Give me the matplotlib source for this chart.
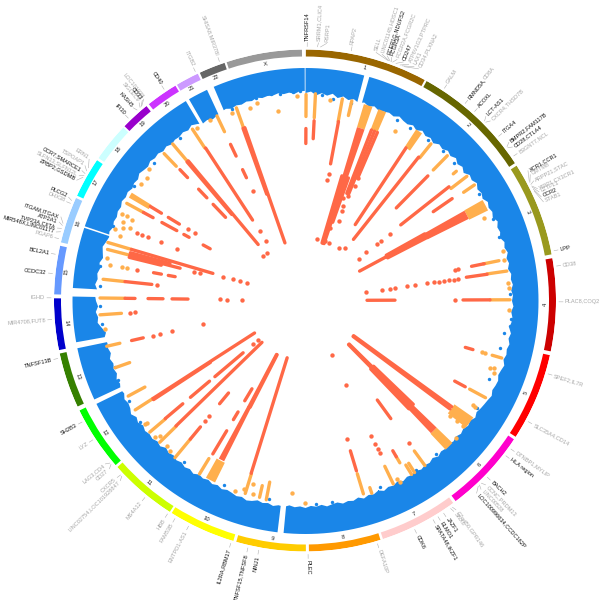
import matplotlib
matplotlib.use("Agg")
import matplotlib.pyplot as plt
import numpy as np

plt.rcParams["font.family"] = ["Liberation Sans", "DejaVu Sans"]

# Chromosome ring, angles in degrees clockwise from the top
chrom_names = ["1", "2", "3", "4", "5", "6", "7", "8", "9", "10", "11", "12",
               "13", "14", "15", "16", "17", "18", "19", "20", "21", "22", "X"]
chrom_start = [0.2, 29.0, 57.5, 80.3, 102.6, 123.6, 143.8, 162.5, 179.8, 196.6, 212.6, 229.0,
               245.0, 258.6, 271.4, 283.4, 294.7, 304.6, 314.0, 321.5, 329.3, 335.2, 341.8]
chrom_end = [28.5, 56.8, 79.4, 101.7, 122.9, 143.1, 161.9, 179.1, 195.9, 212.1, 228.4, 244.0,
             257.8, 270.5, 282.6, 294.1, 304.0, 313.6, 320.8, 328.9, 334.7, 341.3, 359.3]
chrom_colors = ["#996600", "#666600", "#99991E", "#CC0000", "#FF0000", "#FF00CC", "#FFCCCC",
                "#FF9900", "#FFCC00", "#FFFF00", "#CCFF00", "#00FF00", "#358000", "#0000CC",
                "#6699FF", "#99CCFF", "#00FFFF", "#CCFFFF", "#9900CC", "#CC33FF", "#CC99FF",
                "#666666", "#999999"]

# Stretches of the genome that carry data (gaps are centromeres / short arms)
blue_start = [0.0, 15.9, 186.9, 245.0, 259.8, 273.2, 288.7, 330.0, 336.8]
blue_end = [14.6, 185.4, 243.8, 258.3, 271.1, 288.3, 329.1, 335.0, 359.8]

# Top of the non significant band, one value every 1.5 degrees
blue_top = [
    5.0, 4.7, 5.4, 4.9, 5.3, 4.8, 5.5, 5.0, 5.5, 5.1, 5.6, 5.2, 5.7, 5.3, 5.8, 5.6, 5.4, 5.7, 5.2, 5.6,
    5.8, 5.4, 5.9, 5.3, 5.8, 5.5, 6.0, 5.4, 5.7, 5.2, 5.6, 5.1, 5.7, 5.3, 5.9, 5.2, 5.5, 5.0, 5.6, 5.3,
    5.7, 5.1, 5.5, 5.2, 5.6, 5.0, 5.5, 5.3, 5.7, 5.1, 5.4, 5.0, 5.5, 5.2, 5.6, 5.1, 5.3, 5.0, 5.4, 5.1,
    5.3, 5.0, 5.4, 5.1, 5.2, 5.5, 5.0, 5.3, 4.9, 5.2, 5.0, 5.3, 4.8, 5.1, 5.3, 4.9, 5.0, 5.2, 4.8, 5.1,
    5.3, 5.5, 5.8, 5.4, 5.9, 5.6, 6.0, 5.7, 6.1, 5.8, 6.2, 5.9, 6.1, 5.7, 6.2, 5.8, 6.0, 5.7, 6.1, 5.8,
    6.0, 5.6, 6.1, 5.7, 5.9, 5.5, 6.0, 5.6, 5.8, 5.4, 5.9, 5.5, 5.7, 5.4, 5.8, 5.6, 5.3, 5.7, 5.4, 5.6,
    5.2, 5.5, 5.3, 5.6, 5.2, 5.4, 5.1, 5.5, 5.3, 5.6, 5.2, 5.0, 5.4, 5.2, 5.5, 5.7, 5.4, 5.8, 5.5, 5.9,
    5.6, 5.9, 5.4, 5.8, 5.5, 5.9, 5.6, 6.0, 5.7, 6.1, 5.5, 5.8, 5.4, 5.6, 5.3, 5.7, 5.2, 5.6, 5.0, 5.5,
    5.7, 5.4, 5.9, 5.6, 6.0, 5.7, 6.2, 5.9, 6.2, 5.8, 6.3, 6.0, 6.1, 5.7, 6.2, 5.5, 4.8, 5.0, 4.6, 5.1,
    4.7, 4.5, 4.9, 4.4, 4.8, 4.6, 5.0, 4.7, 5.2, 4.9, 4.6, 5.0, 5.3, 5.0, 5.4, 5.1, 5.3, 5.0, 5.2, 4.8,
    5.1, 4.9, 5.3, 5.0, 5.2, 4.7, 5.0, 5.2, 4.8, 5.1, 4.9, 5.3, 5.0, 5.4, 5.1, 5.2, 4.9, 5.2, 4.7, 5.1,
    5.6, 5.4, 5.8, 5.5, 5.2, 5.0, 5.4, 5.1, 5.3, 5.0, 5.2, 4.8, 5.1, 4.9, 5.0, 4.7, 5.0, 4.8, 5.1, 4.6,
]
blue_dot_angle = [346.4, 350.6, 353.0, 356.7, 358.6, 274.0, 95.0, 97.0, 250.8, 251.5, 4.6, 7.9, 13.0,
                  26.9, 31.2, 37.4, 42.8, 47.3, 58.4, 66.7, 71.8, 88.1, 99.4, 103.7, 113.2, 121.9,
                  139.6, 146.8, 158.2, 172.3, 176.9, 190.4, 203.8, 216.7, 233.6, 240.2, 247.1, 263.3,
                  268.4, 279.6, 291.3, 303.8, 312.4, 322.6, 339.1]
blue_dot_score = [5.0, 4.8, 4.9, 4.8, 4.7, 5.5, 5.2, 5.2, 6.3, 5.7, 5.3, 5.9, 6.0,
                  6.1, 6.2, 6.1, 5.9, 6.0, 5.8, 5.6, 5.7, 5.5, 6.3, 6.4, 6.5, 6.0,
                  6.3, 6.2, 6.4, 6.0, 5.8, 6.3, 6.3, 6.2, 5.7, 6.0, 5.9, 5.8,
                  5.6, 5.0, 5.4, 5.5, 5.7, 5.6, 5.7]

# Wide blocks of many variants: angle range and score range
orange_block_from = [16.7, 21.0, 33.0, 60.5, 124.8, 134.0, 206.3, 300.3]
orange_block_to = [19.2, 23.3, 35.0, 63.8, 128.3, 136.7, 209.2, 301.9]
orange_block_low = [5.6, 5.6, 5.8, 5.8, 5.6, 5.6, 6.0, 5.8]
orange_block_high = [10.4, 10.0, 10.0, 10.0, 10.2, 10.0, 10.4, 10.4]

red_block_from = [16.7, 60.6, 134.0, 206.7]
red_block_to = [19.2, 63.5, 136.5, 208.6]
red_block_low = [10.4, 10.0, 10.0, 10.6]
red_block_high = [20.6, 19.2, 16.6, 22.6]

# Single peaks
orange_angle = [0.3, 2.9, 10.5, 13.2, 38.8, 44.5, 49.5, 52.5, 55.7, 78.4, 81.7, 89.8, 106.3, 118.3,
                144.0, 147.5, 148.5, 149.7, 154.3, 160.9, 163.2, 191.0, 193.0, 197.2, 211.3, 219.6,
                225.7, 229.7, 237.2, 241.6, 250.5, 257.0, 266.0, 270.7, 276.0, 284.5, 286.4, 298.6,
                316.2, 319.8, 326.7, 334.5, 340.4]
orange_from = [5.4, 5.2, 5.6, 5.6, 6.4, 6.0, 6.8, 5.8, 5.6, 7.0, 5.8, 5.6, 5.6, 5.6,
               5.8, 5.8, 5.8, 9.0, 5.9, 5.8, 6.2, 6.0, 6.2, 6.2, 6.0, 5.8,
               6.0, 5.9, 6.2, 6.4, 6.3, 5.9, 5.5, 5.6, 6.0, 5.8, 5.5, 6.0,
               5.9, 5.6, 5.6, 5.7, 5.7]
orange_to = [9.8, 10.0, 10.2, 8.6, 10.0, 10.0, 7.6, 9.8, 8.2, 10.2, 9.8, 9.6, 7.6, 9.2,
             9.4, 8.0, 8.0, 10.4, 9.8, 7.0, 10.4, 9.6, 8.6, 10.4, 9.6, 10.6,
             10.6, 10.0, 10.4, 10.2, 9.4, 8.6, 9.8, 10.6, 10.4, 10.4, 10.4, 9.8,
             9.4, 10.2, 10.1, 9.2, 9.9]

red_angle = [0.3, 2.9, 10.6, 33.5, 38.4, 44.6, 51.7, 55.3, 61.7, 78.4, 81.8, 89.8, 89.8, 106.3, 118.3,
             125.9, 126.8, 134.6, 135.4, 144.0, 149.7, 163.2, 197.3, 207.2, 207.8, 211.0, 211.0, 211.0,
             219.6, 219.6, 225.8, 229.8, 229.8, 229.8, 236.8, 237.2, 257.0, 270.7, 270.7, 270.7,
             276.0, 280.4, 280.4, 284.5, 285.3, 286.4, 298.6, 298.6, 298.6, 298.6, 301.3, 301.3,
             316.3, 316.3, 316.3, 319.6, 320.1, 326.9, 334.5, 334.5, 340.2, 340.8,
             16.5, 17.5, 18.5, 19.5, 21.3, 22.3, 23.3, 60.9, 61.5, 62.1, 62.7, 133.8, 136.2, 283.8]
red_from = [12.2, 10.6, 10.2, 10.0, 10.0, 11.6, 9.9, 10.8, 28.0, 10.0, 9.8, 9.6, 28.6, 11.6, 10.2,
            10.4, 10.4, 16.6, 16.6, 17.4, 10.4, 11.0, 10.4, 22.6, 22.6, 10.8, 18.8, 23.2,
            10.6, 19.8, 10.6, 10.0, 16.6, 23.0, 10.4, 10.4, 11.0, 10.6, 15.2, 20.0,
            10.4, 15.8, 18.8, 10.4, 10.4, 10.4, 9.8, 14.0, 19.0, 23.4, 10.4, 14.6,
            10.4, 15.8, 20.0, 10.2, 10.2, 10.2, 12.0, 17.6, 10.0, 10.0,
            20.6, 20.6, 20.6, 20.6, 10.0, 10.0, 10.0, 19.2, 19.2, 19.2, 19.2, 16.6, 16.6, 10.4]
red_to = [15.2, 14.2, 18.8, 28.4, 31.0, 20.6, 22.2, 15.4, 34.2, 12.6, 14.0, 15.0, 34.2, 13.2, 12.6,
          34.6, 34.6, 34.2, 34.2, 22.0, 11.8, 15.2, 34.6, 34.4, 34.4, 16.2, 20.6, 26.0,
          13.8, 22.6, 34.6, 14.6, 21.6, 30.4, 24.0, 34.6, 13.4, 12.6, 18.2, 23.2,
          15.8, 17.4, 20.2, 20.8, 18.6, 27.4, 12.0, 17.4, 20.2, 25.0, 13.0, 17.2,
          12.6, 18.2, 23.6, 24.0, 32.0, 27.4, 14.6, 19.4, 24.0, 34.4,
          34.6, 34.6, 34.6, 30.0, 23.6, 23.6, 20.0, 28.0, 28.0, 28.0, 28.0, 27.6, 27.6, 17.0]

orange_dot_angle = [357.7, 7.1, 28.0, 65.3, 78.5, 76.0, 85.0, 86.5, 92.7, 106.3, 106.3, 110.0, 109.6,
                    111.0, 128.5, 128.5, 128.5, 132.3, 122.0, 122.0, 152.8, 152.5, 200.2, 198.0,
                    195.7, 195.0, 184.0, 180.0, 232.3, 232.3, 227.6, 226.9, 223.5, 221.9, 261.8,
                    280.4, 280.4, 280.4, 282.2, 293.2, 290.5, 295.4, 294.8, 295.2, 291.8, 292.6,
                    289.2, 310.0, 307.8, 305.3, 338.7, 344.0, 346.3, 352.0, 332.2, 328.0]
orange_dot_score = [5.7, 6.1, 8.2, 7.2, 6.0, 5.8, 5.8, 5.8, 5.8, 9.0, 9.8, 7.2, 6.4,
                    6.2, 9.6, 7.8, 6.2, 5.8, 6.4, 7.0, 6.5, 5.6, 6.0, 6.9,
                    8.4, 6.6, 8.0, 6.2, 6.6, 6.2, 6.0, 6.9, 6.5, 6.2, 6.2,
                    7.0, 9.4, 10.4, 6.0, 7.0, 6.0, 7.2, 8.4, 6.1, 7.5, 8.7,
                    7.4, 5.8, 6.6, 6.4, 6.3, 6.5, 5.9, 8.3, 5.8, 6.0]

red_dot_angle = [10.7, 10.5, 10.8, 18.6, 22.5, 33.0, 37.0, 22.0, 22.3, 23.3, 19.0, 17.2, 20.4, 22.5,
                 23.6, 23.5, 78.4, 78.4, 82.0, 82.0, 82.0, 82.0, 82.0, 82.0, 82.0, 82.0, 82.0, 82.0,
                 82.0, 82.0, 82.0, 89.8, 143.8, 153.9, 153.9, 153.9, 153.9, 153.9, 153.9, 163.3, 219.6,
                 219.6, 229.8, 229.8, 257.0, 257.0, 257.0, 257.0, 266.0, 266.0, 270.7, 270.7, 270.7,
                 276.0, 280.4, 284.5, 284.5, 286.4, 286.4, 286.8, 286.9, 292.0, 292.0, 292.0, 292.0,
                 292.0, 301.3, 301.3, 316.7, 321.0, 326.9, 326.9, 334.5, 52.0, 52.0, 52.0, 52.0, 52.0]
red_dot_score = [20.8, 22.0, 34.1, 34.0, 34.1, 34.1, 33.4, 26.2, 27.3, 29.3, 31.2, 28.5, 24.7, 24.0,
                 21.6, 19.8, 15.4, 16.0, 15.6, 16.6, 17.6, 18.6, 19.6, 20.6, 21.9, 24.4, 26.0, 28.4,
                 29.4, 31.0, 34.2, 16.6, 11.4, 16.4, 14.6, 13.6, 12.6, 27.8, 34.4, 17.6, 16.6,
                 15.2, 33.0, 34.4, 15.4, 16.8, 19.2, 25.6, 11.6, 12.6, 29.6, 31.0, 34.0,
                 16.9, 12.4, 23.6, 25.0, 29.6, 31.6, 33.0, 34.4, 10.4, 11.4, 12.8, 15.6,
                 19.0, 19.2, 20.8, 34.4, 34.4, 30.0, 32.4, 22.4, 33.0, 31.0, 28.4, 27.2, 25.0]

# Gene labels: name, angle of the label, angle on the ring where its leader starts
gene_names = ["TNFRSF14", "SRRM1,CLIC4", "RSRP1", "RPAP2", "SELL", "LINC01145,HDSC1", "FCER1G,NDUFS2",
              "FCGR3A", "FCGR2A,FCGR2C", "CD247", "ATP6V1G3,PTPRC", "LAX1", "CD34,PLXNA2", "GALM",
              "RMND5A,", "ACOXL", "LCT-AS1", "CXCR4,THSD7B", "ITGA4", "BMPR2,FAM117B", "CD28,CTLA4",
              "B3GNT7,NCL", "XCR1,CCR1", "CMTM8", "ARPP21,STAC", "XIRP1,CX3CR1", "LZTFL1", "CCR2",
              "STAB1", "LPP", "CD38", "PLAC8,COQ2", "SPEF2,IL7R", "SLC35A4,CD14", "DTNBP1,MYLIP",
              "HLA region", "BACH2", "CCNC,PRDM13", "LINC00528", "LOC100996634,CCDC162P",
              "C7orf50,GPR146", "SNX8", "JAZF1", "ELMO1", "SPATA48,IKZF1", "CDK6", "DEFA10P", "PLEC",
              "NINJ1", "TNFSF15,TNFSF8", "IL2RA,RBM17", "ENTPD1-AS1", "FAM53B", "HBB", "MS4A12",
              "LINC02754,LOC101928847", "CXCR5", "CD27", "LAG3,CD4", "LYZ", "SH2B3", "TNFSF13B",
              "MIR4708,FUT8", "IGHD", "CCDC32", "BCL2A1", "PGAP6", "MIR548X,LINC01177", "TVP23A,CIITA",
              "ATP2A1", "ITGAM,ITGAX", "DHX38", "PLCG2", "ZPBP2,GSDMB", "SLFN13,SLFN12L", "CCR7,SMARCE1",
              "TSPOAP1", "ERN1", "IFI30", "KASH5", "LOC101928", "SIGLEC9", "CD33", "CD40", "ITGB2",
              "SHISA8,MIR378I"]
gene_angle = [0.5, 3.0, 4.8, 10.5, 16.0, 17.4, 18.6,
              19.6, 20.9, 22.4, 23.7, 25.0, 26.1, 33.3,
              39.1, 41.9, 44.5, 45.9, 49.7, 52.2, 53.5,
              55.3, 59.8, 60.8, 62.4, 64.3, 65.1, 66.3,
              67.5, 78.7, 82.2, 90.3, 106.8, 118.5, 125.8,
              127.7, 134.1, 135.6, 137.0, 138.3,
              144.2, 144.8, 146.9, 148.4, 149.7, 154.4, 163.4, 179.3,
              190.5, 193.0, 197.0, 207.3, 210.8, 212.8, 219.1,
              225.7, 226.7, 229.3, 230.7, 236.7, 241.4, 256.8,
              265.7, 270.6, 276.1, 280.5, 284.1, 285.4, 286.3,
              287.7, 288.9, 292.5, 293.6, 297.8, 298.9, 300.2,
              301.5, 303.2, 315.9, 318.3, 321.3, 320.0, 320.9, 326.3, 334.4,
              340.3]
gene_site = [0.5, 2.8, 3.5, 10.5, 19.0, 19.3, 19.6,
             19.9, 20.2, 21.0, 22.0, 22.5, 23.0, 33.3,
             39.1, 41.9, 45.0, 45.4, 49.7, 52.7, 53.0,
             55.3, 62.0, 62.3, 62.8, 63.2, 63.5, 64.0,
             64.5, 78.7, 82.2, 90.3, 106.8, 118.5, 125.8,
             127.7, 134.1, 136.0, 136.6, 137.0,
             144.5, 145.0, 146.9, 148.4, 149.7, 154.4, 163.4, 179.3,
             190.5, 193.0, 197.0, 207.3, 210.8, 212.8, 219.1,
             226.2, 226.6, 229.8, 230.2, 236.7, 241.4, 256.8,
             265.7, 270.6, 276.1, 280.5, 284.1, 285.7, 286.5,
             287.2, 287.7, 292.5, 293.2, 299.0, 299.5, 300.0,
             300.7, 301.5, 315.9, 318.6, 320.0, 319.5, 319.8, 326.3, 334.4,
             340.3]
gene_dark = ["TNFRSF14", "FCER1G,NDUFS2", "FCGR3A", "CD247", "RMND5A,", "ACOXL", "LCT-AS1", "ITGA4",
             "BMPR2,FAM117B", "CD28,CTLA4", "XCR1,CCR1", "CCR2", "LPP", "HLA region", "BACH2",
             "LOC100996634,CCDC162P", "JAZF1", "ELMO1", "SPATA48,IKZF1", "CDK6", "PLEC", "NINJ1",
             "TNFSF15,TNFSF8", "IL2RA,RBM17", "SH2B3", "TNFSF13B", "CCDC32", "BCL2A1",
             "MIR548X,LINC01177", "TVP23A,CIITA", "ATP2A1", "ITGAM,ITGAX", "PLCG2", "ZPBP2,GSDMB",
             "CCR7,SMARCE1", "IFI30", "KASH5", "CD33", "CD40"]

BLUE = "#1A86E8"
ORANGE = "#FFAF4D"
RED = "#FF6846"
DARK_TEXT = "#111111"
PALE_TEXT = "#a6a6a6"

# 1 score unit is 5 pixels, 46.6 is the centre of the circle
CENTRE_SCORE = 46.6


def rad(values):
    return np.deg2rad(np.asarray(values, dtype=float))


def draw_blue(ax):
    grid = np.arange(len(blue_top)) * 1.5
    top = np.array(blue_top)
    for start, end in zip(blue_start, blue_end):
        inside = (grid > start) & (grid < end)
        angles = np.concatenate([[start], grid[inside], [end]])
        edge = np.interp(angles, grid, top)
        ax.fill_between(rad(angles), 0, edge, color=BLUE, lw=0, zorder=2)
    ax.scatter(rad(blue_dot_angle), blue_dot_score, s=6, color=BLUE, lw=0, zorder=2)


def draw_blocks(ax, start, end, low, high, color):
    start = np.array(start)
    end = np.array(end)
    low = np.array(low)
    high = np.array(high)
    ax.bar(rad((start + end) / 2), high - low, width=rad(end - start), bottom=low,
           color=color, lw=0, zorder=3)


def draw_peaks(ax):
    draw_blocks(ax, orange_block_from, orange_block_to, orange_block_low, orange_block_high, ORANGE)
    draw_blocks(ax, red_block_from, red_block_to, red_block_low, red_block_high, RED)
    ax.vlines(rad(orange_angle), orange_from, orange_to, color=ORANGE, lw=2.4,
              capstyle="round", zorder=3)
    ax.vlines(rad(red_angle), red_from, red_to, color=RED, lw=2.4,
              capstyle="round", zorder=3)
    ax.scatter(rad(orange_dot_angle), orange_dot_score, s=10, color=ORANGE, lw=0, zorder=3)
    ax.scatter(rad(red_dot_angle), red_dot_score, s=10, color=RED, lw=0, zorder=3)


def draw_ring(ax):
    start = np.array(chrom_start)
    end = np.array(chrom_end)
    ax.bar(rad((start + end) / 2), -1.4, width=rad(end - start), bottom=-2.2,
           color=chrom_colors, lw=0, zorder=4)
    for name, angle in zip(chrom_names, (start + end) / 2):
        rotation = -angle
        if 90 < angle < 270:
            rotation += 180
        ax.text(np.deg2rad(angle), -1.4, name, fontsize=4.2, color="#222222",
                rotation=rotation, ha="center", va="center", rotation_mode="anchor")


def draw_gene_labels(ax):
    for name, angle, site in zip(gene_names, gene_angle, gene_site):
        color = DARK_TEXT if name in gene_dark else PALE_TEXT
        ax.plot(rad([site, angle]), [-4.2, -5.0], color="#b0b0b0", lw=0.4, clip_on=False, zorder=1)
        if angle < 180:
            rotation = 90 - angle
            align = "left"
        else:
            rotation = 270 - angle
            align = "right"
        ax.text(np.deg2rad(angle), -5.4, name, fontsize=4.1, color=color, rotation=rotation,
                ha=align, va="center", rotation_mode="anchor")
    # second half of the mixed label, the only one set in two colours
    ax.text(np.deg2rad(39.1), -10.4, "CD8A", fontsize=4.1, color=PALE_TEXT, rotation=90 - 39.1,
            ha="left", va="center", rotation_mode="anchor")


def main():
    fig = plt.figure(figsize=(6.03, 6.0), dpi=100)
    ax = fig.add_axes([54 / 603, 48.5 / 600, 502 / 603, 502 / 600], projection="polar")
    ax.set_theta_zero_location("N")
    ax.set_theta_direction(-1)
    ax.set_ylim(CENTRE_SCORE, -3.6)
    ax.axis("off")

    draw_blue(ax)
    draw_peaks(ax)
    draw_ring(ax)
    draw_gene_labels(ax)

    fig.savefig("out.png", dpi=100)


if __name__ == "__main__":
    main()
